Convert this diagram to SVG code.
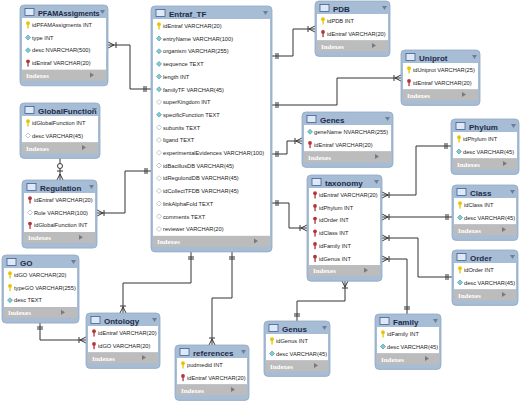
<svg xmlns="http://www.w3.org/2000/svg" xmlns:xlink="http://www.w3.org/1999/xlink" width="520" height="402" viewBox="0 0 520 402">
<style>
.frame{fill:#a7bcd5;stroke:#93a9c3;stroke-width:0.8}
.body{fill:#fff}
.idx{fill:#bcbcbc}
.title{font-family:"Liberation Sans",sans-serif;font-weight:bold;font-size:8px;fill:#1c2c48}
.row{font-family:"Liberation Sans",sans-serif;font-size:5.7px;fill:#222}
.itx{font-family:"Liberation Serif",serif;font-weight:bold;font-size:7px;fill:#fff}
.ico{fill:#dfe9f6;stroke:#3f5f9a;stroke-width:0.8}
.tri{fill:#6d7f97}
.itri{fill:#7a7a7a}
.con path{fill:none;stroke:#333;stroke-width:1}
</style>
<defs>
<symbol id="pk" viewBox="0 0 6 8" width="6" height="8"><circle cx="3" cy="2.2" r="1.9" fill="#e8c400"/><rect x="2.4" y="3" width="1.3" height="4.5" fill="#e8c400"/></symbol>
<symbol id="fk" viewBox="0 0 6 8" width="6" height="8"><circle cx="3" cy="2.2" r="1.9" fill="#b2343a"/><rect x="2.4" y="3" width="1.3" height="4.5" fill="#b2343a"/></symbol>
<symbol id="dm" viewBox="0 0 6 6" width="6" height="6"><path d="M3,0.5 L5.5,3 L3,5.5 L0.5,3Z" fill="#7fcbd6" stroke="#4a90a0" stroke-width="0.6"/></symbol>
<symbol id="dw" viewBox="0 0 6 6" width="6" height="6"><path d="M3,0.5 L5.5,3 L3,5.5 L0.5,3Z" fill="#fff" stroke="#8aa" stroke-width="0.6"/></symbol>
</defs>
<rect width="520" height="402" fill="#fff"/>

<g class="con">
<path d="M108,45 H130 V89 H151"/><path d="M114,45 L108,42 M114,45 L108,48 M116,42 V48 M144,86 V92 M146,86 V92"/>
<path d="M272,56 H293 V29 H315"/><path d="M276,53 V59 M278,53 V59 M309,29 L315,26 M309,29 L315,32 M308,26 V32"/>
<path d="M272,105 H337 V78 H401"/><path d="M276,102 V108 M278,102 V108 M395,78 L401,75 M395,78 L401,81 M394,75 V81"/>
<path d="M272,154 H287 V141 H302"/><path d="M276,151 V157 M278,151 V157 M296,141 L302,138 M296,141 L302,144 M295,138 V144"/>
<path d="M272,203 H289 V228 H307"/><path d="M276,200 V206 M278,200 V206 M301,228 L307,225 M301,228 L307,231 M300,225 V231"/>
<path d="M151,171 H125 V213 H97"/><path d="M145,168 V174 M147,168 V174 M103,213 L97,210 M103,213 L97,216 M104,210 V216"/>
<path d="M60,157 V163 M60,169 V180"/><circle cx="60" cy="166" r="2.5" fill="#fff" stroke="#333" stroke-width="1"/><path d="M57,171 H63 M60,174 L57,180 M60,174 L63,180"/>
<path d="M191,252 V283 H123 V313"/><path d="M188,257 H194 M188,259 H194 M123,307 L120,313 M123,307 L126,313 M120,306 H126"/>
<path d="M232,252 V298 H212 V345"/><path d="M229,257 H235 M229,259 H235 M212,339 L209,345 M212,339 L215,345 M209,338 H215"/>
<path d="M40,323 V340 H86"/><path d="M37,327 H43 M37,329 H43 M80,340 L86,337 M80,340 L86,343 M79,337 V343"/>
<path d="M382,195 H416 V146 H451"/><path d="M388,195 L382,192 M388,195 L382,198 M389,192 V198 M445,143 V149 M447,143 V149"/>
<path d="M382,217 H452"/><path d="M388,217 L382,214 M388,217 L382,220 M389,214 V220 M446,214 V220 M448,214 V220"/>
<path d="M382,238 H418 V277 H452"/><path d="M388,238 L382,235 M388,238 L382,241 M389,235 V241 M446,274 V280 M448,274 V280"/>
<path d="M382,259 H407 V314"/><path d="M388,259 L382,256 M388,259 L382,262 M389,256 V262 M404,307 H410 M404,309 H410"/>
<path d="M345,281 V301 H297 V321"/><path d="M345,287 L342,281 M345,287 L348,281 M342,288 H348 M294,314 H300 M294,316 H300"/>
</g>

<g id="PFAMAssigments" transform="translate(20,5)">
<rect class="frame" width="88" height="80.8" rx="4"/><rect class="ico" x="5" y="3.5" width="9" height="7"/><text class="title" x="18" y="11" style="font-size:7.3px">PFAMAssigments</text><path class="tri" d="M80,5 h5 l-2.5,4z"/>
<rect class="body" x="2" y="13" width="84" height="51.8"/>
<use href="#pk" x="5" y="16"/><text class="row" x="12" y="22">idPFAMAssigments INT</text>
<use href="#dm" x="5" y="29.5"/><text class="row" x="12" y="34.7">type INT</text>
<use href="#dm" x="5" y="42.2"/><text class="row" x="12" y="47.4">desc NVARCHAR(500)</text>
<use href="#fk" x="5" y="54.1"/><text class="row" x="12" y="60.1">idEntraf VARCHAR(20)</text>
<rect class="idx" x="2" y="64.8" width="84" height="11"/><text class="itx" x="6" y="73">Indexes</text><path class="itri" d="M70,67.5 v5 l4,-2.5z"/>
</g>

<g id="Entraf_TF" transform="translate(151,6)">
<rect class="frame" width="121" height="245.9" rx="4"/><rect class="ico" x="5" y="3.5" width="9" height="7"/><text class="title" x="18" y="11">Entraf_TF</text><path class="tri" d="M112,5 h5 l-2.5,4z"/>
<rect class="body" x="2" y="13" width="117" height="216.9"/>
<use href="#pk" x="5" y="16"/><text class="row" x="12" y="22">idEntraf VARCHAR(20)</text>
<use href="#dm" x="5" y="29.5"/><text class="row" x="12" y="34.7">entryName VARCHAR(100)</text>
<use href="#dm" x="5" y="42.2"/><text class="row" x="12" y="47.4">organism VARCHAR(255)</text>
<use href="#dm" x="5" y="54.9"/><text class="row" x="12" y="60.1">sequence TEXT</text>
<use href="#dm" x="5" y="67.6"/><text class="row" x="12" y="72.8">length INT</text>
<use href="#dm" x="5" y="80.3"/><text class="row" x="12" y="85.5">familyTF VARCHAR(45)</text>
<use href="#dw" x="5" y="93"/><text class="row" x="12" y="98.2">superKingdom INT</text>
<use href="#dm" x="5" y="105.7"/><text class="row" x="12" y="110.9">specificFunction TEXT</text>
<use href="#dw" x="5" y="118.4"/><text class="row" x="12" y="123.6">subunits TEXT</text>
<use href="#dw" x="5" y="131.1"/><text class="row" x="12" y="136.3">ligand TEXT</text>
<use href="#dw" x="5" y="143.8"/><text class="row" x="12" y="149">experimentalEvidences VARCHAR(100)</text>
<use href="#dw" x="5" y="156.5"/><text class="row" x="12" y="161.7">idBacillusDB VARCHAR(45)</text>
<use href="#dw" x="5" y="169.2"/><text class="row" x="12" y="174.4">idRegulondDB VARCHAR(45)</text>
<use href="#dw" x="5" y="181.9"/><text class="row" x="12" y="187.1">idCollectTFDB VARCHAR(45)</text>
<use href="#dw" x="5" y="194.6"/><text class="row" x="12" y="199.8">linkAlphaFold TEXT</text>
<use href="#dw" x="5" y="207.3"/><text class="row" x="12" y="212.5">comments TEXT</text>
<use href="#dw" x="5" y="220"/><text class="row" x="12" y="225.2">reviewer VARCHAR(20)</text>
<rect class="idx" x="2" y="229.9" width="117" height="11"/><text class="itx" x="6" y="238">Indexes</text><path class="itri" d="M103,232.5 v5 l4,-2.5z"/>
</g>

<g id="GlobalFunction" transform="translate(20,103)">
<rect class="frame" width="80" height="55.4" rx="4"/><rect class="ico" x="5" y="3.5" width="9" height="7"/><text class="title" x="18" y="11">GlobalFunction</text><path class="tri" d="M72,5 h5 l-2.5,4z"/>
<rect class="body" x="2" y="13" width="76" height="26.4"/>
<use href="#pk" x="5" y="16"/><text class="row" x="12" y="22">idGlobalFunction INT</text>
<use href="#dw" x="5" y="29.5"/><text class="row" x="12" y="34.7">desc VARCHAR(45)</text>
<rect class="idx" x="2" y="39.4" width="76" height="11"/><text class="itx" x="6" y="47.5">Indexes</text><path class="itri" d="M62,42 v5 l4,-2.5z"/>
</g>

<g id="Regulation" transform="translate(22,180)">
<rect class="frame" width="75" height="68.1" rx="4"/><rect class="ico" x="5" y="3.5" width="9" height="7"/><text class="title" x="18" y="11">Regulation</text><path class="tri" d="M67,5 h5 l-2.5,4z"/>
<rect class="body" x="2" y="13" width="71" height="39.1"/>
<use href="#fk" x="5" y="16"/><text class="row" x="12" y="22">idEntraf VARCHAR(20)</text>
<use href="#dw" x="5" y="29.5"/><text class="row" x="12" y="34.7">Role VARCHAR(100)</text>
<use href="#fk" x="5" y="41.4"/><text class="row" x="12" y="47.4">idGlobalFunction INT</text>
<rect class="idx" x="2" y="52.1" width="71" height="11"/><text class="itx" x="6" y="60.2">Indexes</text><path class="itri" d="M57,54.7 v5 l4,-2.5z"/>
</g>

<g id="GO" transform="translate(2,255)">
<rect class="frame" width="77" height="68.1" rx="4"/><rect class="ico" x="5" y="3.5" width="9" height="7"/><text class="title" x="18" y="11">GO</text><path class="tri" d="M69,5 h5 l-2.5,4z"/>
<rect class="body" x="2" y="13" width="73" height="39.1"/>
<use href="#pk" x="5" y="16"/><text class="row" x="12" y="22">idGO VARCHAR(20)</text>
<use href="#pk" x="5" y="28.7"/><text class="row" x="12" y="34.7">typeGO VARCHAR(255)</text>
<use href="#dm" x="5" y="42.2"/><text class="row" x="12" y="47.4">desc TEXT</text>
<rect class="idx" x="2" y="52.1" width="73" height="11"/><text class="itx" x="6" y="60.2">Indexes</text><path class="itri" d="M59,54.7 v5 l4,-2.5z"/>
</g>

<g id="Ontology" transform="translate(86,313)">
<rect class="frame" width="74" height="55.4" rx="4"/><rect class="ico" x="5" y="3.5" width="9" height="7"/><text class="title" x="18" y="11">Ontology</text><path class="tri" d="M66,5 h5 l-2.5,4z"/>
<rect class="body" x="2" y="13" width="70" height="26.4"/>
<use href="#fk" x="5" y="16"/><text class="row" x="12" y="22">idEntraf VARCHAR(20)</text>
<use href="#fk" x="5" y="28.7"/><text class="row" x="12" y="34.7">idGO VARCHAR(20)</text>
<rect class="idx" x="2" y="39.4" width="70" height="11"/><text class="itx" x="6" y="47.5">Indexes</text><path class="itri" d="M56,42 v5 l4,-2.5z"/>
</g>

<g id="references" transform="translate(175,345)">
<rect class="frame" width="74" height="55.4" rx="4"/><rect class="ico" x="5" y="3.5" width="9" height="7"/><text class="title" x="18" y="11">references</text><path class="tri" d="M66,5 h5 l-2.5,4z"/>
<rect class="body" x="2" y="13" width="70" height="26.4"/>
<use href="#pk" x="5" y="16"/><text class="row" x="12" y="22">pudmedid INT</text>
<use href="#fk" x="5" y="28.7"/><text class="row" x="12" y="34.7">idEntraf VARCHAR(20)</text>
<rect class="idx" x="2" y="39.4" width="70" height="11"/><text class="itx" x="6" y="47.5">Indexes</text><path class="itri" d="M56,42 v5 l4,-2.5z"/>
</g>

<g id="PDB" transform="translate(315,1)">
<rect class="frame" width="75" height="55.4" rx="4"/><rect class="ico" x="5" y="3.5" width="9" height="7"/><text class="title" x="18" y="11">PDB</text><path class="tri" d="M67,5 h5 l-2.5,4z"/>
<rect class="body" x="2" y="13" width="71" height="26.4"/>
<use href="#pk" x="5" y="16"/><text class="row" x="12" y="22">idPDB INT</text>
<use href="#fk" x="5" y="28.7"/><text class="row" x="12" y="34.7">idEntraf VARCHAR(20)</text>
<rect class="idx" x="2" y="39.4" width="71" height="11"/><text class="itx" x="6" y="47.5">Indexes</text><path class="itri" d="M57,42 v5 l4,-2.5z"/>
</g>

<g id="Uniprot" transform="translate(401,50)">
<rect class="frame" width="79" height="55.4" rx="4"/><rect class="ico" x="5" y="3.5" width="9" height="7"/><text class="title" x="18" y="11">Uniprot</text><path class="tri" d="M71,5 h5 l-2.5,4z"/>
<rect class="body" x="2" y="13" width="75" height="26.4"/>
<use href="#pk" x="5" y="16"/><text class="row" x="12" y="22">idUniprot VARCHAR(25)</text>
<use href="#fk" x="5" y="28.7"/><text class="row" x="12" y="34.7">idEntraf VARCHAR(20)</text>
<rect class="idx" x="2" y="39.4" width="75" height="11"/><text class="itx" x="6" y="47.5">Indexes</text><path class="itri" d="M61,42 v5 l4,-2.5z"/>
</g>

<g id="Genes" transform="translate(302,112)">
<rect class="frame" width="91" height="55.4" rx="4"/><rect class="ico" x="5" y="3.5" width="9" height="7"/><text class="title" x="18" y="11">Genes</text><path class="tri" d="M83,5 h5 l-2.5,4z"/>
<rect class="body" x="2" y="13" width="87" height="26.4"/>
<use href="#dm" x="5" y="16.8"/><text class="row" x="12" y="22">geneName NVARCHAR(255)</text>
<use href="#fk" x="5" y="28.7"/><text class="row" x="12" y="34.7">idEntraf VARCHAR(20)</text>
<rect class="idx" x="2" y="39.4" width="87" height="11"/><text class="itx" x="6" y="47.5">Indexes</text><path class="itri" d="M73,42 v5 l4,-2.5z"/>
</g>

<g id="Phylum" transform="translate(451,119)">
<rect class="frame" width="68" height="55.4" rx="4"/><rect class="ico" x="5" y="3.5" width="9" height="7"/><text class="title" x="18" y="11">Phylum</text><path class="tri" d="M60,5 h5 l-2.5,4z"/>
<rect class="body" x="2" y="13" width="64" height="26.4"/>
<use href="#pk" x="5" y="16"/><text class="row" x="12" y="22">idPhylum INT</text>
<use href="#dm" x="5" y="29.5"/><text class="row" x="12" y="34.7">desc VARCHAR(45)</text>
<rect class="idx" x="2" y="39.4" width="64" height="11"/><text class="itx" x="6" y="47.5">Indexes</text><path class="itri" d="M52,42 v5 l4,-2.5z"/>
</g>

<g id="taxonomy" transform="translate(307,175)">
<rect class="frame" width="75" height="106.2" rx="4"/><rect class="ico" x="5" y="3.5" width="9" height="7"/><text class="title" x="18" y="11">taxonomy</text><path class="tri" d="M67,5 h5 l-2.5,4z"/>
<rect class="body" x="2" y="13" width="71" height="77.2"/>
<use href="#fk" x="5" y="16"/><text class="row" x="12" y="22">idEntraf VARCHAR(20)</text>
<use href="#fk" x="5" y="28.7"/><text class="row" x="12" y="34.7">idPhylum INT</text>
<use href="#fk" x="5" y="41.4"/><text class="row" x="12" y="47.4">idOrder INT</text>
<use href="#fk" x="5" y="54.1"/><text class="row" x="12" y="60.1">idClass INT</text>
<use href="#fk" x="5" y="66.8"/><text class="row" x="12" y="72.8">idFamily INT</text>
<use href="#fk" x="5" y="79.5"/><text class="row" x="12" y="85.5">idGenus INT</text>
<rect class="idx" x="2" y="90.2" width="71" height="11"/><text class="itx" x="6" y="98.3">Indexes</text><path class="itri" d="M57,92.8 v5 l4,-2.5z"/>
</g>

<g id="Class" transform="translate(452,185)">
<rect class="frame" width="66" height="55.4" rx="4"/><rect class="ico" x="5" y="3.5" width="9" height="7"/><text class="title" x="18" y="11">Class</text><path class="tri" d="M58,5 h5 l-2.5,4z"/>
<rect class="body" x="2" y="13" width="62" height="26.4"/>
<use href="#pk" x="5" y="16"/><text class="row" x="12" y="22">idClass INT</text>
<use href="#dm" x="5" y="29.5"/><text class="row" x="12" y="34.7">desc VARCHAR(45)</text>
<rect class="idx" x="2" y="39.4" width="62" height="11"/><text class="itx" x="6" y="47.5">Indexes</text><path class="itri" d="M50,42 v5 l4,-2.5z"/>
</g>

<g id="Order" transform="translate(452,250)">
<rect class="frame" width="66" height="55.4" rx="4"/><rect class="ico" x="5" y="3.5" width="9" height="7"/><text class="title" x="18" y="11">Order</text><path class="tri" d="M58,5 h5 l-2.5,4z"/>
<rect class="body" x="2" y="13" width="62" height="26.4"/>
<use href="#pk" x="5" y="16"/><text class="row" x="12" y="22">idOrder INT</text>
<use href="#dm" x="5" y="29.5"/><text class="row" x="12" y="34.7">desc VARCHAR(45)</text>
<rect class="idx" x="2" y="39.4" width="62" height="11"/><text class="itx" x="6" y="47.5">Indexes</text><path class="itri" d="M50,42 v5 l4,-2.5z"/>
</g>

<g id="Genus" transform="translate(264,321)">
<rect class="frame" width="66" height="55.4" rx="4"/><rect class="ico" x="5" y="3.5" width="9" height="7"/><text class="title" x="18" y="11">Genus</text><path class="tri" d="M58,5 h5 l-2.5,4z"/>
<rect class="body" x="2" y="13" width="62" height="26.4"/>
<use href="#pk" x="5" y="16"/><text class="row" x="12" y="22">idGenus INT</text>
<use href="#dm" x="5" y="29.5"/><text class="row" x="12" y="34.7">desc VARCHAR(45)</text>
<rect class="idx" x="2" y="39.4" width="62" height="11"/><text class="itx" x="6" y="47.5">Indexes</text><path class="itri" d="M50,42 v5 l4,-2.5z"/>
</g>

<g id="Family" transform="translate(375,314)">
<rect class="frame" width="66" height="55.4" rx="4"/><rect class="ico" x="5" y="3.5" width="9" height="7"/><text class="title" x="18" y="11">Family</text><path class="tri" d="M58,5 h5 l-2.5,4z"/>
<rect class="body" x="2" y="13" width="62" height="26.4"/>
<use href="#pk" x="5" y="16"/><text class="row" x="12" y="22">idFamily INT</text>
<use href="#dm" x="5" y="29.5"/><text class="row" x="12" y="34.7">desc VARCHAR(45)</text>
<rect class="idx" x="2" y="39.4" width="62" height="11"/><text class="itx" x="6" y="47.5">Indexes</text><path class="itri" d="M50,42 v5 l4,-2.5z"/>
</g>
</svg>
